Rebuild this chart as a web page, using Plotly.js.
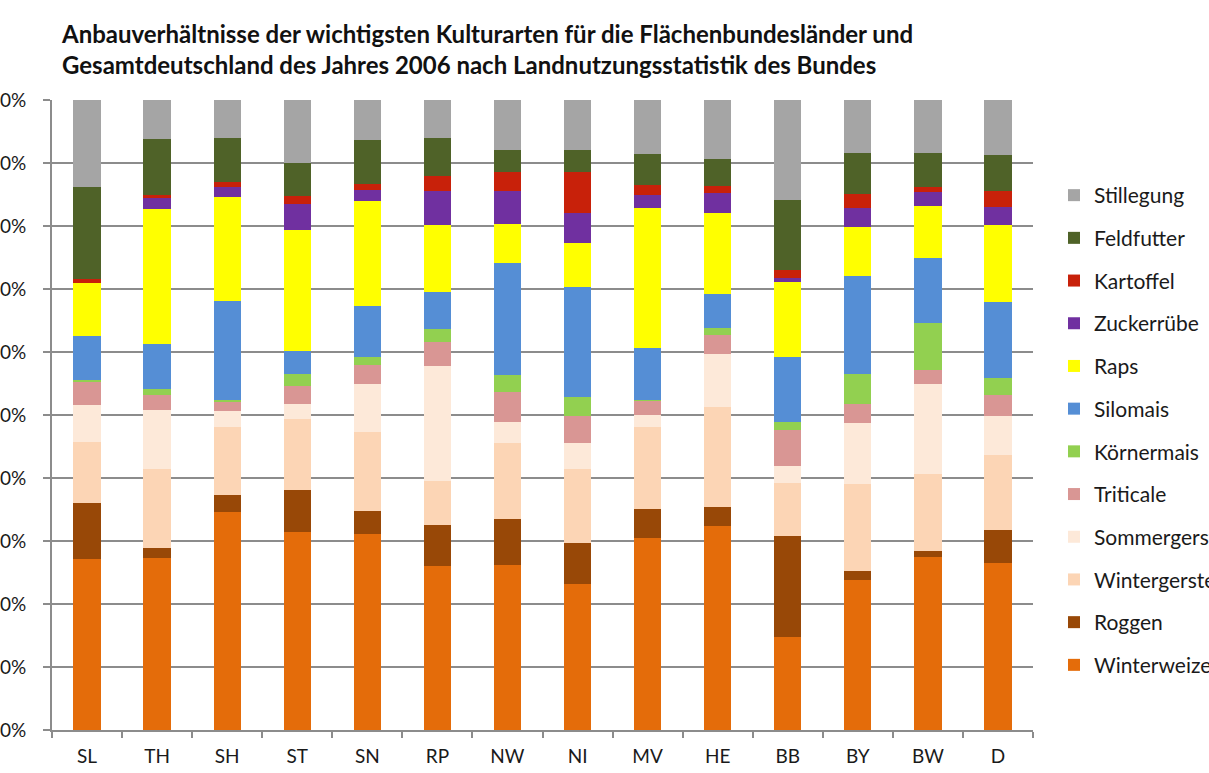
<!DOCTYPE html>
<html>
<head>
<meta charset="utf-8">
<script src="https://cdn.plot.ly/plotly-3.0.1.min.js"></script>
<style>html,body{margin:0;padding:0;background:#fff;}#chart{width:1209px;height:773px;}</style>
</head>
<body>
<div id="chart"></div>
<script>
const categories = ["SL","TH","SH","ST","SN","RP","NW","NI","MV","HE","BB","BY","BW","D"];

const winterweizen = [27.1,27.3,34.6,31.5,31.1,26.0,26.2,23.2,30.5,32.4,14.8,23.8,27.5,26.5];
const roggen       = [9.0,1.5,2.7,6.6,3.7,6.6,7.3,6.5,4.6,3.0,16.0,1.5,0.9,5.2];
const wintergerste = [9.6,12.6,10.9,11.4,12.5,7.0,12.1,11.6,13.1,15.9,8.4,13.9,12.2,12.0];
const sommergerste = [5.9,9.3,2.6,2.4,7.6,18.1,3.3,4.1,1.9,8.4,2.7,9.7,14.4,6.2];
const triticale    = [3.7,2.4,1.5,2.8,3.1,3.9,4.8,4.3,2.2,3.1,5.7,3.0,2.1,3.3];
const koernermais  = [0.3,0.9,0.2,1.9,1.3,2.0,2.6,3.0,0.2,1.1,1.3,4.7,7.5,2.7];
const silomais     = [7.0,7.1,15.8,3.7,8.1,5.9,17.9,17.5,8.2,5.4,10.3,15.6,10.4,12.0];
const raps         = [8.5,21.5,16.5,19.3,16.7,10.7,6.1,7.0,22.3,12.8,11.9,7.8,8.2,12.2];
const zuckerruebe  = [0.0,1.7,1.5,4.0,1.7,5.3,5.3,4.7,2.0,3.3,0.7,3.0,2.2,2.9];
const kartoffel    = [0.5,0.5,0.8,1.4,1.0,2.5,3.0,6.5,1.6,1.0,1.2,2.3,0.8,2.5];
const feldfutter   = [14.6,8.8,7.0,5.2,7.0,5.9,3.5,3.5,4.9,4.3,11.2,6.5,5.4,5.8];
const stillegung   = [13.9,6.2,6.1,10.0,6.3,6.1,7.9,7.9,8.6,9.4,15.8,8.4,8.4,8.7];

const seriesNames = ["Winterweizen","Roggen","Wintergerste","Sommergerste","Triticale","Körnermais","Silomais","Raps","Zuckerrübe","Kartoffel","Feldfutter","Stillegung"];
const seriesValues = [winterweizen,roggen,wintergerste,sommergerste,triticale,koernermais,silomais,raps,zuckerruebe,kartoffel,feldfutter,stillegung];
const seriesColors = ["#E46C0A","#984807","#FCD5B5","#FDE9D9","#D99694","#92D050","#558ED5","#FFFF00","#7030A0","#C8210A","#4F6228","#A5A5A5"];

const font = "Lato, 'Open Sans', sans-serif";

const traces = seriesNames.map((n, i) => ({
  type: "bar",
  name: n,
  x: categories,
  y: seriesValues[i],
  legendgroup: n,
  legendrank: 1000 - i,
  marker: {color: seriesColors[i], line: {width: 0}},
  hoverinfo: "name+y"
}));

const layout = {
  width: 1209,
  height: 773,
  barmode: "stack",
  barnorm: "percent",
  bargap: 0.61,
  paper_bgcolor: "#ffffff",
  plot_bgcolor: "#ffffff",
  margin: {l: 52, r: 176, t: 100, b: 43, autoexpand: false},
  font: {family: font, size: 19, color: "#1a1a1a"},
  title: {
    text: "Anbauverhältnisse der wichtigsten Kulturarten für die Flächenbundesländer und<br>Gesamtdeutschland des Jahres 2006 nach Landnutzungsstatistik des Bundes",
    font: {family: font, size: 24, color: "#111111", weight: "bold"},
    x: 62/1209, xref: "container", xanchor: "left",
    y: 1 - 43/773, yref: "container", yanchor: "top"
  },
  xaxis: {
    type: "category",
    tickson: "boundaries",
    ticks: "outside",
    ticklen: 6,
    tickwidth: 2,
    tickcolor: "#8c8c8c",
    showline: true,
    linecolor: "#8c8c8c",
    linewidth: 2,
    showgrid: false,
    ticklabelstandoff: 8,
    tickfont: {family: font, size: 19, color: "#1a1a1a"}
  },
  yaxis: {
    range: [0, 100],
    dtick: 10,
    ticksuffix: "%",
    ticks: "outside",
    ticklen: 7,
    tickwidth: 2,
    tickcolor: "#8c8c8c",
    showline: true,
    linecolor: "#8c8c8c",
    linewidth: 2,
    showgrid: true,
    gridcolor: "#8c8c8c",
    gridwidth: 2,
    zeroline: false,
    ticklabelstandoff: 13,
    tickfont: {family: font, size: 19, color: "#1a1a1a"}
  },
  legend: {
    traceorder: "grouped",
    tracegroupgap: 12.4,
    x: (1054 - 52) / 981,
    xanchor: "left",
    y: (730 - 175) / 630,
    yanchor: "top",
    font: {family: font, size: 21, color: "#1a1a1a"},
    bgcolor: "rgba(0,0,0,0)"
  },
  showlegend: true
};

Plotly.newPlot("chart", traces, layout, {displayModeBar: false, responsive: false});
</script>
</body>
</html>
